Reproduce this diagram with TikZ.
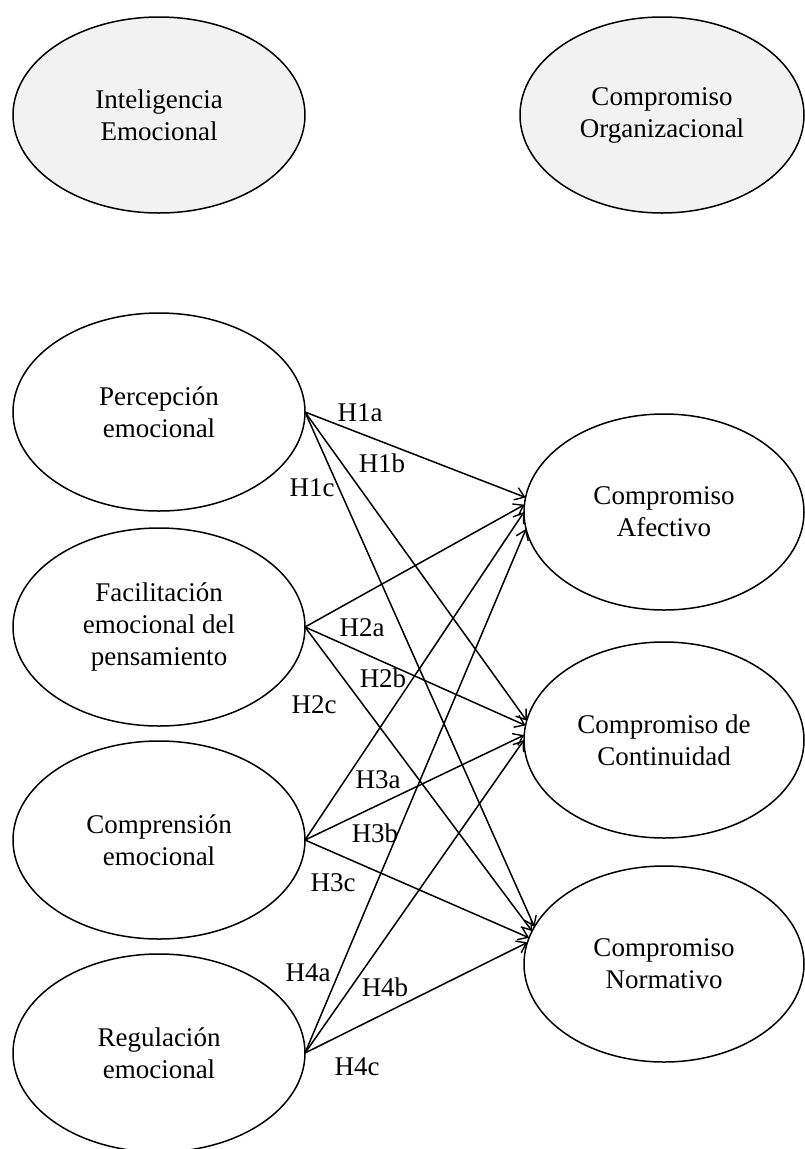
\documentclass[tikz,border=0pt]{standalone}
\usepackage{fontspec}
\setmainfont{Liberation Serif}
\usetikzlibrary{shapes.geometric,arrows.meta}
\begin{document}
\begin{tikzpicture}[x=1pt,y=-1pt,
  lat/.style={ellipse,draw,line width=1.5pt,inner sep=0pt,outer sep=0pt,minimum width=292pt,minimum height=198pt,align=center,font=\fontsize{27}{32}\selectfont},
  topbox/.style={lat,fill=gray!10,minimum height=196pt},
  tgt/.style={lat,minimum width=280pt,minimum height=196pt},
  hyp/.style={font=\fontsize{27}{32}\selectfont,inner sep=0pt},
  arr/.style={line width=1.5pt,-{Straight Barb[length=9pt,width=13pt,line width=1.4pt]}}]
\useasboundingbox[fill=white] (0,0) rectangle (804,1149);
\node[topbox] (ie) at (159,115) {Inteligencia\\Emocional};
\node[topbox,minimum width=284pt] (co) at (662,115) {Compromiso\\Organizacional};
\node[lat] (pe) at (159,412) {Percepción\\emocional};
\node[lat] (fe) at (159,627) {Facilitación\\emocional del\\pensamiento};
\node[lat] (ce) at (159,840) {Comprensión\\emocional};
\node[lat] (re) at (159,1053) {Regulación\\emocional};
\node[tgt] (ca) at (664,512) {Compromiso\\Afectivo};
\node[tgt] (cc) at (664,740) {Compromiso de\\Continuidad};
\node[tgt] (cn) at (664,964) {Compromiso\\Normativo};
\draw[arr] (pe.east) -- (ca.174);
\draw[arr] (pe.east) -- (cc.172);
\draw[arr] (pe.east) -- (cn.164);
\draw[arr] (fe.east) -- (ca.177);
\draw[arr] (fe.east) -- (cc.174);
\draw[arr] (fe.east) -- (cn.166);
\draw[arr] (ce.east) -- (ca.180);
\draw[arr] (ce.east) -- (cc.178);
\draw[arr] (ce.east) -- (cn.169);
\draw[arr] (re.east) -- (ca.187);
\draw[arr] (re.east) -- (cc.180);
\draw[arr] (re.east) -- (cn.171);
\node[hyp] (h1a) at (360,413) {H1a};
\node[hyp] (h1b) at (382,463) {H1b};
\node[hyp] (h1c) at (312,488) {H1c};
\node[hyp] (h2a) at (362,628) {H2a};
\node[hyp] (h2b) at (383,678) {H2b};
\node[hyp] (h2c) at (314,705) {H2c};
\node[hyp] (h3a) at (378,780) {H3a};
\node[hyp] (h3b) at (375,833) {H3b};
\node[hyp] (h3c) at (333,883) {H3c};
\node[hyp] (h4a) at (308,973) {H4a};
\node[hyp] (h4b) at (385,987) {H4b};
\node[hyp] (h4c) at (357,1067) {H4c};
\end{tikzpicture}
\end{document}
